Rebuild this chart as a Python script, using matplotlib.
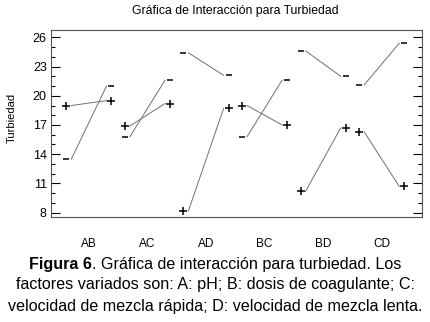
import matplotlib
matplotlib.use('Agg')
import matplotlib.pyplot as plt
from matplotlib.transforms import offset_copy
import numpy as np

plt.rcParams['font.family'] = ['Liberation Sans', 'DejaVu Sans']

# interaction pairs and mean turbidity at low (-) / high (+) level of second factor
pairs = ['AB', 'AC', 'AD', 'BC', 'BD', 'CD']
minus_low = [13.5, 15.8, 24.4, 15.8, 24.6, 21.1]
minus_high = [21.0, 21.6, 22.1, 21.6, 22.0, 25.4]
plus_low = [19.0, 16.9, 8.2, 19.0, 10.2, 16.3]
plus_high = [19.5, 19.2, 18.7, 17.0, 16.7, 10.7]

title = 'Gráfica de Interacción para Turbiedad'
ylabel = 'Turbiedad'
yticks = [8, 11, 14, 17, 20, 23, 26]

fig = plt.figure(figsize=(4.31, 3.22), dpi=100)
ax = fig.add_axes([0.118, 0.326, 0.860, 0.581])

xpos = np.arange(1, len(pairs) + 1)
half = 0.30
line_col = '#707070'

left_off = offset_copy(ax.transData, fig=fig, x=-3.6, y=0, units='points')
right_off = offset_copy(ax.transData, fig=fig, x=3.6, y=0, units='points')

for i, x in enumerate(xpos):
    ax.plot([x - half, x + half], [minus_low[i], minus_high[i]], color=line_col, lw=0.7)
    ax.plot([x - half, x + half], [plus_low[i], plus_high[i]], color=line_col, lw=0.7)
    ax.plot(x - half, minus_low[i], marker='_', ms=4, mew=1.1, color='black', transform=left_off)
    ax.plot(x + half, minus_high[i], marker='_', ms=4, mew=1.1, color='black', transform=right_off)
    ax.plot(x - half, plus_low[i], marker='+', ms=5.5, mew=1.1, color='black', transform=left_off)
    ax.plot(x + half, plus_high[i], marker='+', ms=5.5, mew=1.1, color='black', transform=right_off)

ax.set_xlim(0.35, 6.68)
ax.set_ylim(7.56, 26.75)
ax.set_xticks(xpos)
ax.set_xticklabels(pairs, fontsize=8.5)
ax.tick_params(axis='x', length=0, pad=15)
ax.set_yticks(yticks)
ax.set_yticklabels([str(v) for v in yticks], fontsize=9)
ax.set_yticks(np.arange(8, 27, 1), minor=True)
ax.tick_params(axis='y', which='major', direction='in', length=6.5, width=0.8, right=True, pad=3)
ax.tick_params(axis='y', which='minor', direction='in', length=3, width=0.8, right=True)
for s in ax.spines.values():
    s.set_color('#555555')
    s.set_linewidth(0.8)
ax.set_ylabel(ylabel, fontsize=8)
ax.yaxis.set_label_coords(-0.092, 0.53)

fig.text(0.546, 0.966, title, ha='center', va='center', fontsize=8.8)

# caption with bold figure number
cap_size = 11.6
fig.canvas.draw()
r = fig.canvas.get_renderer()
bold_part = 'Figura 6'
rest = '. Gráfica de interacción para turbiedad. Los'
tb = fig.text(0, 0, bold_part, fontsize=cap_size, fontweight='bold')
tr = fig.text(0, 0, rest, fontsize=cap_size)
wb = tb.get_window_extent(r).width
wr = tr.get_window_extent(r).width
W = fig.bbox.width
x0 = (W - wb - wr) / 2 / W
y1 = 1 - 264 / 322
tb.set_position((x0, y1))
tb.set_va('center')
tr.set_position((x0 + wb / W, y1))
tr.set_va('center')
fig.text(0.5, 1 - 285 / 322, 'factores variados son: A: pH; B: dosis de coagulante; C:',
         ha='center', va='center', fontsize=cap_size)
fig.text(0.5, 1 - 306 / 322, 'velocidad de mezcla rápida; D: velocidad de mezcla lenta.',
         ha='center', va='center', fontsize=cap_size)

fig.savefig('out.png', dpi=100)
